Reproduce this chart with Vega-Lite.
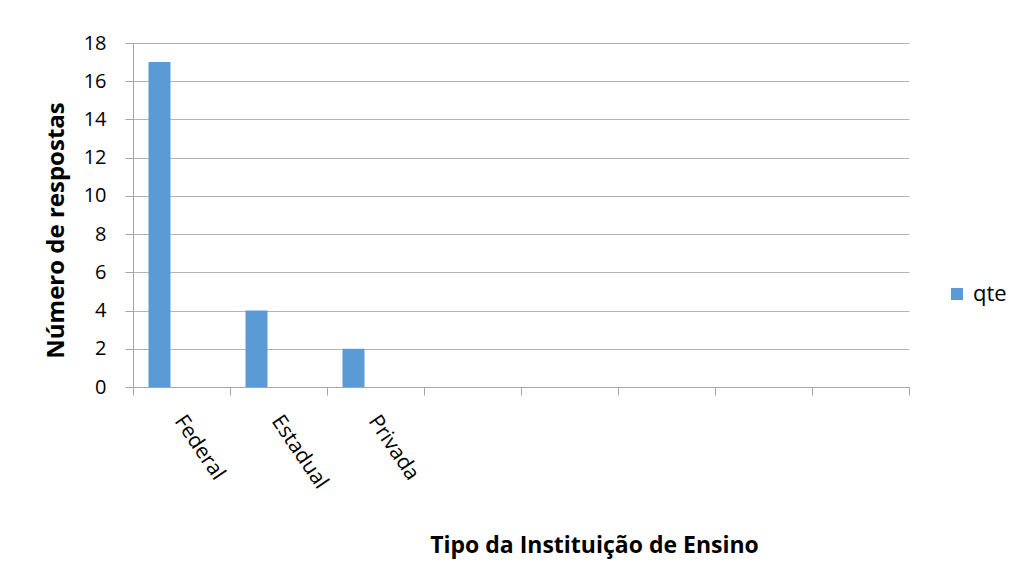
{
  "$schema": "https://vega.github.io/schema/vega-lite/v6.json",
  "width": 776,
  "height": 344,
  "autosize": "none",
  "padding": {"left": 133, "top": 43, "right": 114, "bottom": 178},
  "background": "white",
  "config": {
    "font": "Open Sans",
    "view": {"stroke": null},
    "axis": {
      "labelFont": "Open Sans",
      "labelFontSize": 20,
      "labelColor": "#000000",
      "titleFont": "Open Sans",
      "titleFontSize": 24,
      "titleFontWeight": "bold",
      "titleColor": "#000000",
      "domainColor": "#a6a6a6",
      "tickColor": "#a6a6a6",
      "gridColor": "#b3b3b3",
      "domainWidth": 1,
      "tickWidth": 1,
      "gridWidth": 1,
      "tickSize": 8
    }
  },
  "data": {
    "values": [
      {"tipo": "Federal", "serie": "qte", "qtd": 17},
      {"tipo": "Estadual", "serie": "qte", "qtd": 4},
      {"tipo": "Privada", "serie": "qte", "qtd": 2}
    ]
  },
  "mark": {"type": "bar"},
  "encoding": {
    "x": {
      "field": "tipo",
      "type": "nominal",
      "sort": null,
      "scale": {
        "domain": ["Federal", "Estadual", "Privada", "v4", "v5", "v6", "v7", "v8"],
        "paddingInner": 0,
        "paddingOuter": 0
      },
      "axis": {
        "title": "Tipo da Instituição de Ensino",
        "titleFontSize": 23,
        "labelFontSize": 21,
        "labelExpr": "indexof(['Federal','Estadual','Privada'], datum.value) >= 0 ? datum.value : ''",
        "tickBand": "extent",
        "labelAngle": 56,
        "labelAlign": "left",
        "labelBaseline": "top",
        "labelPadding": 16,
        "labelOffset": 6,
        "grid": false,
        "titleX": 461,
        "titleY": 165,
        "titleAlign": "center",
        "titleBaseline": "alphabetic"
      }
    },
    "xOffset": {
      "field": "serie",
      "type": "nominal",
      "scale": {"domain": ["qte", "s2", "s3"], "paddingInner": 0, "paddingOuter": 0.7045}
    },
    "y": {
      "field": "qtd",
      "type": "quantitative",
      "scale": {"domain": [0, 18], "nice": false},
      "axis": {
        "title": "Número de respostas",
        "values": [0, 2, 4, 6, 8, 10, 12, 14, 16, 18],
        "labelPadding": 19,
        "grid": true,
        "titleX": -70,
        "titleY": 187,
        "titleAngle": -90,
        "titleAlign": "center",
        "titleBaseline": "alphabetic"
      }
    },
    "color": {
      "field": "serie",
      "type": "nominal",
      "scale": {"domain": ["qte"], "range": ["#5b9bd5"]},
      "legend": {
        "title": null,
        "orient": "none",
        "legendX": 813,
        "legendY": 240,
        "padding": 0,
        "symbolType": "square",
        "symbolSize": 144,
        "symbolFillColor": "#5b9bd5",
        "symbolStrokeWidth": 0,
        "labelFont": "Open Sans",
        "labelFontSize": 22,
        "labelColor": "#000000",
        "labelOffset": 5
      }
    }
  }
}
